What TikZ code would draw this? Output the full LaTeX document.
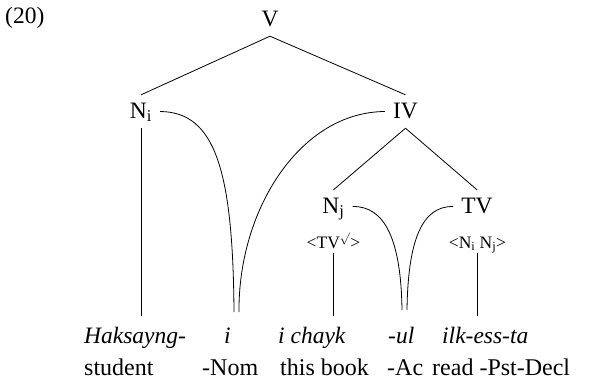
\documentclass[tikz,border=0pt]{standalone}
\usepackage{fontspec}
\setmainfont{Liberation Serif}
\usetikzlibrary{positioning}

\begin{document}
\begin{tikzpicture}[
    x=1pt, y=-1pt,
    cat/.style={anchor=base, text height=16pt, text depth=3pt, inner xsep=8pt, inner ysep=7pt, font=\fontsize{23.5}{28}\selectfont},
    feat/.style={anchor=base, text depth=3pt, inner xsep=2pt, inner ysep=2pt, font=\fontsize{17.5}{21}\selectfont},
    word/.style={inner sep=0pt, anchor=base west, font=\fontsize{23.5}{28}\selectfont\itshape},
    gloss/.style={inner sep=0pt, anchor=base west, font=\fontsize{24}{28}\selectfont},
    edge/.style={line width=0.8pt}
]
\useasboundingbox (0,0) rectangle (589,381);

\node[inner sep=0pt, anchor=base west, font=\fontsize{23.5}{28}\selectfont] (ex) at (5,23) {(20)};

% tree
\node[cat] (V) at (270,26) {V};
\node[cat] (Ni) at (141,118) {N\textsubscript{i}};
\node[cat] (IV) at (405.5,118) {IV};
\node[cat] (Nj) at (333.5,213) {N\textsubscript{j}};
\node[cat] (TV) at (477,213) {TV};
\node[feat] (tvarg) at (333.5,248) {<TV\textsuperscript{$\surd$}>};
\node[feat] (njarg) at (477.5,248) {<N\textsubscript{i} N\textsubscript{j}>};

% words and glosses
\node[word] (hak) at (84,343) {Haksayng-};
\node[gloss] (stu) at (84,375) {student};
\node[word] (nom) at (224,343) {i};
\node[gloss] (nomg) at (202,375) {-Nom};
\node[word] (book) at (278,343) {i chayk};
\node[gloss] (bookg) at (280,375) {this book};
\node[word] (acc) at (388,343) {-ul};
\node[gloss] (accg) at (387,375) {-Ac};
\node[word] (read) at (442,343) {ilk-ess-ta};
\node[gloss] (readg) at (432,375) {read -Pst-Decl};

\coordinate (nomL) at (234,312);
\coordinate (nomR) at (239,312);
\coordinate (accL) at (402,310);
\coordinate (accR) at (407,310);

\draw[edge] (V.south) -- (Ni.north);
\draw[edge] (V.south) -- (IV.north);
\draw[edge] (IV.south) -- (Nj.north);
\draw[edge] (IV.south) -- (TV.north);

\draw[edge, shorten >=11pt] (Ni.south) -- (Ni.south |- hak.north);
\draw[edge, shorten >=11pt] (tvarg.south) -- (tvarg.south |- hak.north);
\draw[edge, shorten >=11pt] (njarg.south) -- (njarg.south |- hak.north);

% linking curves
\draw[edge] (Ni.east) .. controls (215,112) and (233,170) .. (nomL);
\draw[edge] (IV.west) .. controls (300,112) and (238,210) .. (nomR);
\draw[edge] (Nj.east) .. controls (385,206) and (401,240) .. (accL);
\draw[edge] (TV.west) .. controls (422,206) and (408,240) .. (accR);
\end{tikzpicture}
\end{document}
